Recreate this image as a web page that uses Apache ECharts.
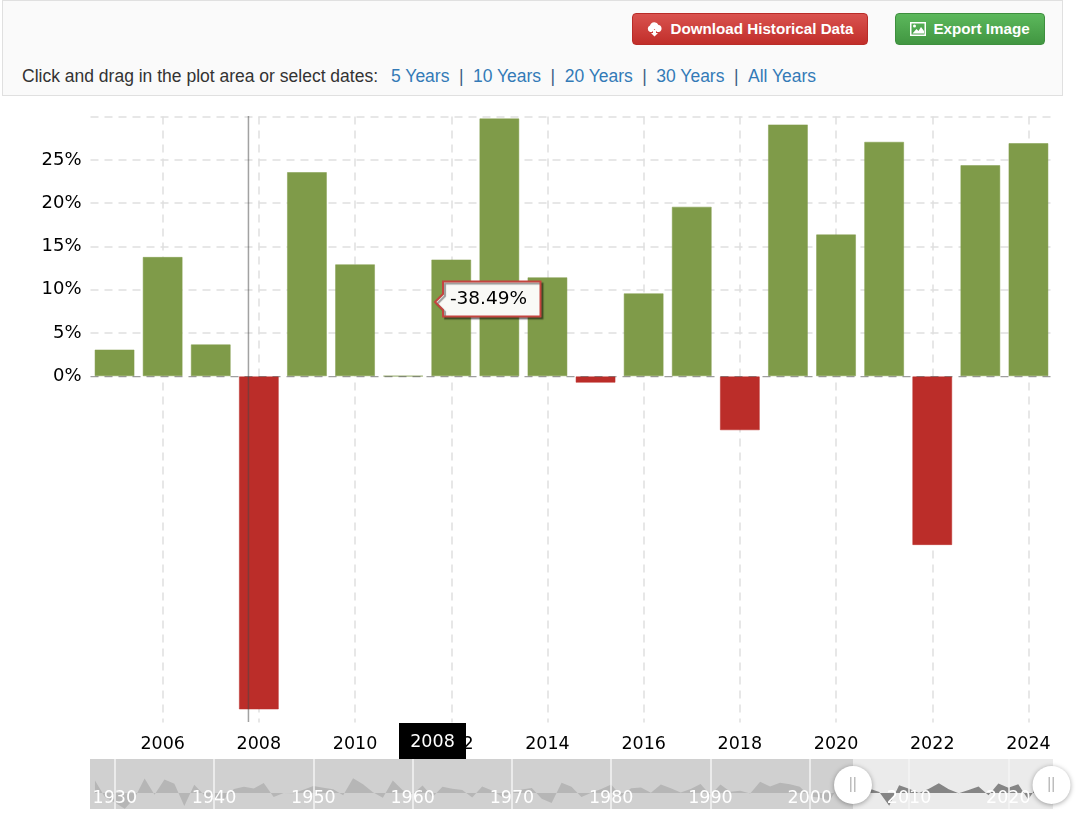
<!DOCTYPE html>
<html><head><meta charset="utf-8">
<script src="https://cdn.jsdelivr.net/npm/echarts@6/dist/echarts.min.js"></script>
<style>
html,body{margin:0;padding:0;background:#fff;overflow:hidden}
#chart{position:absolute;left:0;top:0;width:1085px;height:817px}
#bar{position:absolute;left:2px;top:0;width:1059px;height:94px;background:#fafafa;border:1px solid #e0e0e0;font-family:"Liberation Sans",Arial,sans-serif;box-sizing:content-box}
.btn{position:absolute;top:12px;height:32px;box-sizing:border-box;border-radius:4px;color:#fff;font-weight:700;font-size:15.2px;line-height:30px;white-space:nowrap;display:flex;align-items:center;justify-content:center;gap:7px}
#dl{left:629px;width:236px;background:linear-gradient(#d9534f,#c12e2a);border:1px solid #b92c28}
#ex{left:892px;width:150px;background:linear-gradient(#5cb85c,#419641);border:1px solid #3e8f3e}
#sel{position:absolute;left:19px;top:64px;font-size:17.5px;line-height:22px;color:#333;white-space:nowrap}
#sel a{color:#337ab7;text-decoration:none}
#sel i{font-style:normal;color:#3f5f85;margin:0 9.5px}
</style></head><body>
<div id="chart"></div>
<div id="bar">
 <div class="btn" id="dl"><svg width="17" height="16" viewBox="0 0 17 16"><path d="M4 11a3.5 3.5 0 0 1 0-6.5A4.5 4.5 0 0 1 12.5 4 3.6 3.6 0 0 1 13 11H11L8.5 8 6 11Z" fill="#fff"/><path d="M7 9h3v3h2l-3.5 3.5L5 12h2Z" fill="#fff"/></svg><span>Download Historical Data</span></div>
 <div class="btn" id="ex"><svg width="16" height="14" viewBox="0 0 16 14"><path fill-rule="evenodd" d="M0 0h16v14H0ZM1.5 1.5v11h13v-11Z" fill="#fff"/><path d="M2.5 11.5 6.5 7l2 2 2.500-4 3 4v2.500Z" fill="#fff"/><circle cx="4.500" cy="4" r="1.500" fill="#fff"/></svg><span>Export Image</span></div>
 <div id="sel">Click and drag in the plot area or select dates:<span style="display:inline-block;width:13px"></span><a>5 Years</a><i>|</i><a>10 Years</a><i>|</i><a>20 Years</a><i>|</i><a>30 Years</a><i>|</i><a>All Years</a></div>
</div>
<script>
const visibleYears = ['2005','2006','2007','2008','2009','2010','2011','2012','2013','2014','2015','2016','2017','2018','2019','2020','2021','2022','2023','2024'];
const visibleReturns = [3.10,13.80,3.70,-38.49,23.60,12.95,0.05,13.50,29.80,11.45,-0.75,9.60,19.60,-6.24,29.10,16.40,27.10,-19.50,24.40,26.95];
const earlierReturns = [37.88,-11.91,-28.48,-47.07,-14.78,44.08,-4.71,41.37,27.92,-38.59,25.21,-5.45,-15.29,-17.86,12.43,19.45,13.80,30.72,-11.87,0.00,-0.65,10.26,21.78,16.46,11.78,-6.62,45.02,26.40,2.62,-14.31,38.06,8.48,-2.97,23.13,-11.81,18.89,12.97,9.06,-13.09,20.09,7.66,-11.36,0.10,10.79,15.63,-17.37,-29.72,31.55,19.15,-11.50,1.06,12.31,25.77,-9.73,14.76,17.27,1.40,26.33,14.62,2.03,12.40,27.25,-6.56,26.31,4.46,7.06,-1.54,34.11,20.26,31.01,26.67,19.53,-10.14,-13.04,-23.37,26.38,8.99];
const firstHistoryYear = 1928;
const hoveredYear = '2008';

const allReturns = earlierReturns.concat(visibleReturns);
const allYears = allReturns.map((_, i) => String(firstHistoryYear + i));
const splitAt = earlierReturns.length;
const greenBar = '#7f9b49', redBar = '#bb2d29';
const axisFont = '"DejaVu Sans", Verdana, sans-serif';
const gridGray = '#e0e0e0';
const hoveredValue = visibleReturns[visibleYears.indexOf(hoveredYear)];

const chart = echarts.init(document.getElementById('chart'), null, {renderer: 'canvas'});

function handle(cx) {
  return [
    {type: 'circle', shape: {cx, cy: 785, r: 19}, z: 50, style: {fill: '#fff', shadowBlur: 5, shadowColor: 'rgba(0,0,0,.35)', shadowOffsetY: 1}},
    {type: 'rect', shape: {x: cx - 3, y: 777, width: 1.5, height: 15}, z: 51, style: {fill: '#bdbdbd'}},
    {type: 'rect', shape: {x: cx + 1, y: 777, width: 1.5, height: 15}, z: 51, style: {fill: '#bdbdbd'}}
  ];
}

chart.setOption({
  animation: false,
  grid: [
    {left: 90.5, top: 116.6, width: 962, height: 606, containLabel: false},
    {left: 90, top: 759, width: 963, height: 50}
  ],
  xAxis: [
    {
      type: 'category', gridIndex: 0, data: visibleYears, position: 'bottom',
      axisLine: {show: false},
      axisTick: {show: true, alignWithLabel: true, length: 0, interval: (i, v) => +v % 2 === 0},
      axisLabel: {interval: (i, v) => +v % 2 === 0, color: '#000', fontFamily: axisFont, fontSize: 17.5, margin: 13},
      splitLine: {show: true, alignWithLabel: true, interval: (i, v) => +v % 2 === 0, lineStyle: {color: gridGray, type: [8, 6], width: 1.5}}
    },
    {
      type: 'category', gridIndex: 1, data: allYears, boundaryGap: true,
      axisLine: {show: false}, z: 5,
      axisTick: {show: false, alignWithLabel: true, interval: (i, v) => +v % 10 === 0},
      axisLabel: {inside: true, interval: (i, v) => +v % 10 === 0, color: '#fff', fontFamily: axisFont, fontSize: 17.5, margin: 2},
      splitLine: {show: true, alignWithLabel: true, interval: (i, v) => +v % 10 === 0, lineStyle: {color: '#f4f4f4', width: 1.5}}
    }
  ],
  yAxis: [
    {
      type: 'value', gridIndex: 0, min: -40, max: 30, interval: 5,
      axisLine: {show: false}, axisTick: {show: false},
      axisLabel: {color: '#000', fontFamily: axisFont, fontSize: 18, margin: 9, padding: [5, 0, 0, 0],
        formatter: v => (v < 0 || v >= 30) ? '' : v + '%'},
      splitLine: {show: true, lineStyle: {type: [8, 6], width: 1.5,
        color: ['rgba(0,0,0,0)','rgba(0,0,0,0)','rgba(0,0,0,0)','rgba(0,0,0,0)','rgba(0,0,0,0)','rgba(0,0,0,0)','rgba(0,0,0,0)','rgba(0,0,0,0)', gridGray, gridGray, gridGray, gridGray, gridGray, gridGray, gridGray]}}
    },
    {type: 'value', gridIndex: 1, min: -48, max: 103, show: false}
  ],
  series: [
    {
      type: 'bar', xAxisIndex: 0, yAxisIndex: 0, barWidth: 40,
      data: visibleReturns.map(v => ({value: v, itemStyle: {
        color: v < 0 ? redBar : greenBar,
        borderColor: v < 0 ? 'rgba(187,45,41,.5)' : 'rgba(127,155,73,.5)', borderWidth: 1}})),
      markLine: {silent: true, symbol: 'none', z: 10, label: {show: false},
        lineStyle: {color: 'rgba(70,70,70,.45)', type: [8, 6], width: 1.2}, data: [{yAxis: 0}]}
    },
    {
      type: 'line', xAxisIndex: 1, yAxisIndex: 1, symbol: 'none',
      lineStyle: {width: 0}, areaStyle: {color: '#b6b6b6', opacity: 1},
      data: allReturns.map((v, i) => i <= splitAt ? v : '-')
    },
    {
      type: 'line', xAxisIndex: 1, yAxisIndex: 1, symbol: 'none',
      lineStyle: {width: 0}, areaStyle: {color: '#858585', opacity: 1},
      data: allReturns.map((v, i) => i >= splitAt ? v : '-')
    }
  ],
  graphic: {elements: [
    {type: 'rect', shape: {x: 90, y: 759, width: 963, height: 50}, z: -2, style: {fill: '#ebebeb'}},
    {type: 'rect', shape: {x: 90, y: 759, width: 763, height: 50}, z: -1, style: {fill: '#d0d0d0'}},
    ...handle(853), ...handle(1051.5),
    {type: 'rect', shape: {x: 247.7, y: 116, width: 1.5, height: 606}, z: 30, style: {fill: 'rgba(70,70,70,.5)'}},
    {type: 'rect', shape: {x: 399, y: 723, width: 67, height: 36}, z: 40, style: {fill: '#000'}},
    {type: 'text', x: 432.5, y: 742, z: 41, style: {text: hoveredYear, fill: '#fff', font: '17.5px ' + axisFont, align: 'center', verticalAlign: 'middle'}},
    {type: 'polygon', z: 42, shape: {points: [[443, 281.5], [540.500, 281.5], [540.500, 316.500], [443, 316.500], [443, 310], [435, 302], [443, 294]]},
      style: {fill: '#f9f9f6', stroke: '#c4443f', lineWidth: 2, shadowColor: 'rgba(0,0,0,.4)', shadowBlur: 1, shadowOffsetX: 2, shadowOffsetY: 2}},
    {type: 'text', x: 488.500, y: 299.5, z: 43, style: {text: hoveredValue.toFixed(2) + '%', fill: '#000', font: '18.5px ' + axisFont, align: 'center', verticalAlign: 'middle'}}
  ]}
});
</script>
</body></html>
